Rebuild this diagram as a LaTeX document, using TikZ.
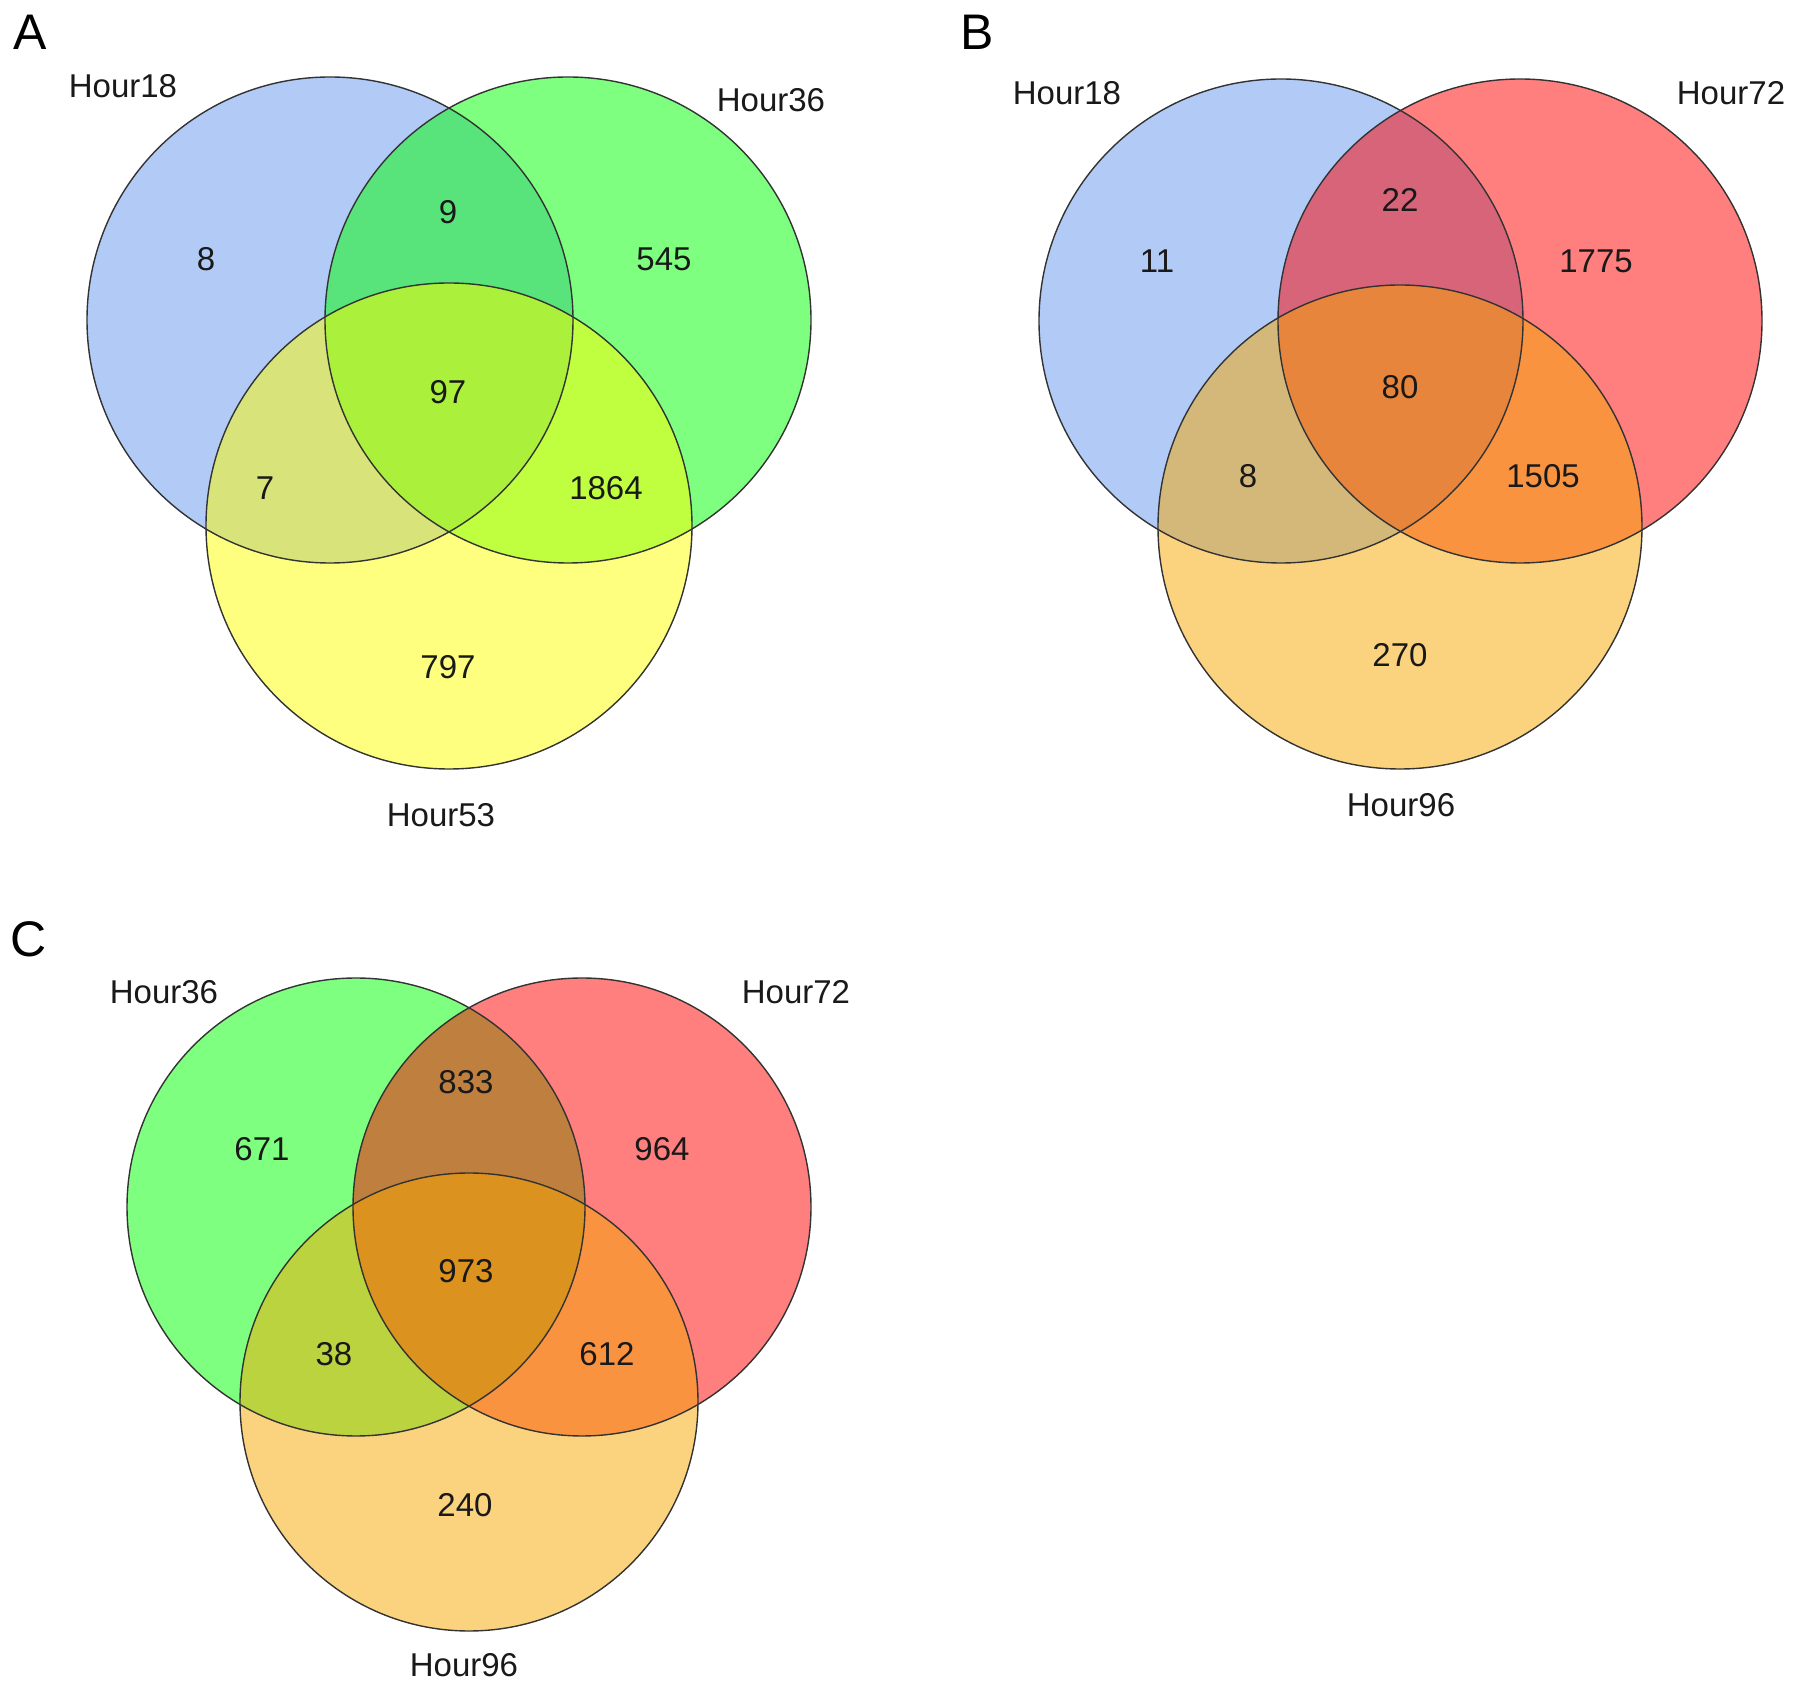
\documentclass[tikz,border=0pt]{standalone}
\usepackage{fontspec}
\setmainfont{Liberation Sans}

\definecolor{vblue}{RGB}{100,149,237}
\definecolor{vgreen}{RGB}{0,255,0}
\definecolor{vyellow}{RGB}{255,255,0}
\definecolor{vred}{RGB}{255,0,0}
\definecolor{vorange}{RGB}{247,167,0}

\begin{document}
\begin{tikzpicture}[x=0.5pt,y=-0.5pt]
\useasboundingbox (0,0) rectangle (1796,1689);

% centres of the sets
\coordinate (A_18) at (330, 320);
\coordinate (A_36) at (568, 320);
\coordinate (A_53) at (449, 526);
\coordinate (B_18) at (1281, 321);
\coordinate (B_72) at (1520, 321);
\coordinate (B_96) at (1400, 527);
\coordinate (C_36) at (356, 1207);
\coordinate (C_72) at (582, 1207);
\coordinate (C_96) at (469, 1402);


\tikzset{SetStyle/.style = {fill opacity=0.5} }

\fill[SetStyle, vblue] (A_18) circle [radius=121.5pt];
\fill[SetStyle, vgreen] (A_36) circle [radius=121.5pt];
\fill[SetStyle, vyellow] (A_53) circle [radius=121.5pt];
\fill[SetStyle, vblue] (B_18) circle [radius=121pt];
\fill[SetStyle, vred] (B_72) circle [radius=121pt];
\fill[SetStyle, vorange] (B_96) circle [radius=121pt];
\fill[SetStyle, vgreen] (C_36) circle [radius=114.5pt];
\fill[SetStyle, vred] (C_72) circle [radius=114.5pt];
\fill[SetStyle, vorange] (C_96) circle [radius=114.5pt];


\tikzset{RimStyle/.style = {draw=black!80, line width=0.7pt} }

\draw[RimStyle] (A_18) circle [radius=121.5pt];
\draw[RimStyle] (A_36) circle [radius=121.5pt];
\draw[RimStyle] (A_53) circle [radius=121.5pt];
\draw[RimStyle] (B_18) circle [radius=121pt];
\draw[RimStyle] (B_72) circle [radius=121pt];
\draw[RimStyle] (B_96) circle [radius=121pt];
\draw[RimStyle] (C_36) circle [radius=114.5pt];
\draw[RimStyle] (C_72) circle [radius=114.5pt];
\draw[RimStyle] (C_96) circle [radius=114.5pt];



\tikzset{CountStyle/.style = {
 text = black!90,
 inner sep = 0pt,
 font = \fontsize{16.5}{18}\selectfont} }
\tikzset{PanelStyle/.style = {inner sep = 0pt, font = \fontsize{25}{28}\selectfont} }

\node[PanelStyle] (PA) at (30, 32) {A};
\node[PanelStyle] (PB) at (977, 32) {B};
\node[PanelStyle] (PC) at (29, 939) {C};

\node[CountStyle] (LA1) at (123, 86) {Hour18};
\node[CountStyle] (LA2) at (771, 100) {Hour36};
\node[CountStyle] (LA3) at (441, 815) {Hour53};
\node[CountStyle] (LB1) at (1067, 93) {Hour18};
\node[CountStyle] (LB2) at (1731, 93) {Hour72};
\node[CountStyle] (LB3) at (1401, 805) {Hour96};
\node[CountStyle] (LC1) at (164, 992) {Hour36};
\node[CountStyle] (LC2) at (796, 992) {Hour72};
\node[CountStyle] (LC3) at (464, 1665) {Hour96};

\node[CountStyle] (NA1) at (206, 259) {8};
\node[CountStyle] (NA2) at (448, 212) {9};
\node[CountStyle] (NA3) at (664, 259) {545};
\node[CountStyle] (NA4) at (448, 392) {97};
\node[CountStyle] (NA5) at (265, 488) {7};
\node[CountStyle] (NA6) at (606, 488) {1864};
\node[CountStyle] (NA7) at (448, 667) {797};

\node[CountStyle] (NB1) at (1157, 261) {11};
\node[CountStyle] (NB2) at (1400, 200) {22};
\node[CountStyle] (NB3) at (1596, 261) {1775};
\node[CountStyle] (NB4) at (1400, 387) {80};
\node[CountStyle] (NB5) at (1248, 476) {8};
\node[CountStyle] (NB6) at (1543, 476) {1505};
\node[CountStyle] (NB7) at (1400, 655) {270};

\node[CountStyle] (NC1) at (262, 1149) {671};
\node[CountStyle] (NC2) at (466, 1082) {833};
\node[CountStyle] (NC3) at (662, 1149) {964};
\node[CountStyle] (NC4) at (466, 1271) {973};
\node[CountStyle] (NC5) at (334, 1354) {38};
\node[CountStyle] (NC6) at (607, 1354) {612};
\node[CountStyle] (NC7) at (465, 1505) {240};

\end{tikzpicture}
\end{document}
